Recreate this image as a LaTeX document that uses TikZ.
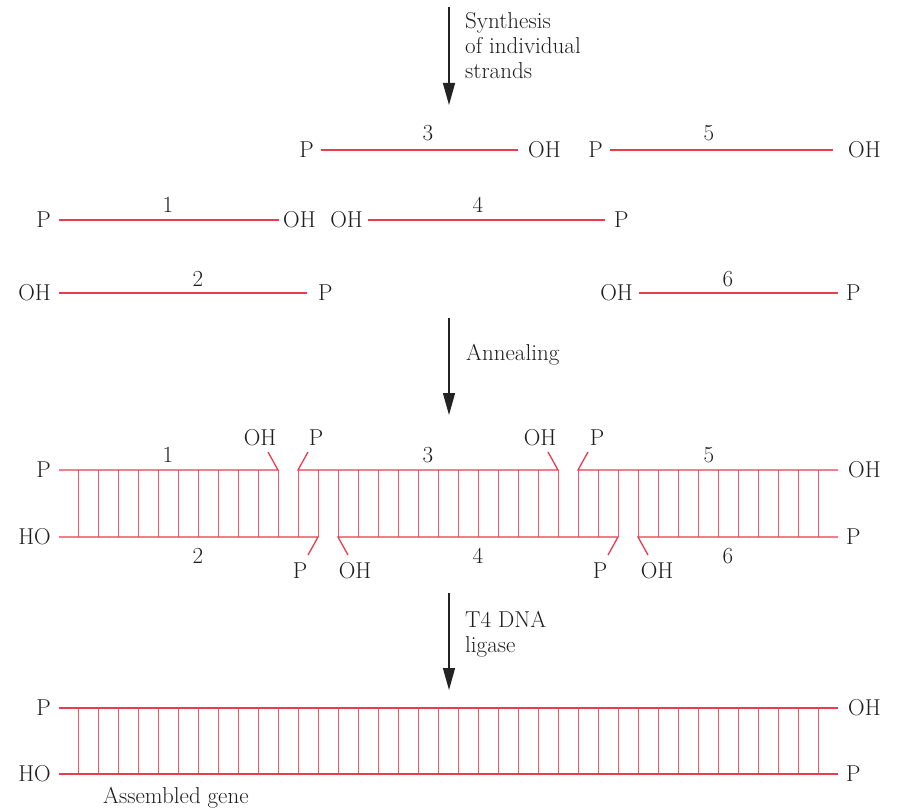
\documentclass[tikz,border=0pt]{standalone}
\usetikzlibrary{arrows.meta}
\definecolor{dnared}{RGB}{236,58,78}
\definecolor{rungred}{RGB}{238,90,105}
\definecolor{arrowgray}{RGB}{35,35,35}
\definecolor{txt}{RGB}{30,30,30}
\tikzset{
  strand/.style={draw=dnared, line width=1.3pt},
  thickstrand/.style={draw=dnared, line width=2.6pt},
  rung/.style={draw=rungred, line width=0.9pt},
  lbl/.style={font=\fontsize{23}{25}\selectfont, inner sep=0pt, text=txt},
  steparrow/.style={draw=arrowgray, line width=1.4pt, -{Triangle[width=12pt,length=22pt]}},
}
\begin{document}
\begin{tikzpicture}[x=1pt,y=-1pt]
\useasboundingbox (0,0) rectangle (899,810);

% ---------- step arrows ----------
\coordinate (a1s) at (449,7);
\coordinate (a1e) at (449,105);
\draw[steparrow] (a1s) -- (a1e);
\node[lbl, anchor=north west, align=left] (syn) at (465,12) {Synthesis\\of individual\\strands};

\coordinate (a2s) at (449,318);
\coordinate (a2e) at (449,415);
\draw[steparrow] (a2s) -- (a2e);
\node[lbl, anchor=west] (ann) at (466,355) {Annealing};

\coordinate (a3s) at (449,593);
\coordinate (a3e) at (449,690);
\draw[steparrow] (a3s) -- (a3e);
\node[lbl, anchor=north west, align=left] (lig) at (465,611) {T4 DNA\\ligase};

% ---------- single strands ----------
% strand 3
\node[lbl, anchor=east] (s3l) at (314,150) {P};
\node[lbl, anchor=west] (s3r) at (528,150) {OH};
\coordinate (s3a) at (321,150);
\coordinate (s3b) at (518,150);
\draw[strand] (s3a) -- (s3b);
\node[lbl] (n3) at (428,133) {3};
% strand 5
\node[lbl, anchor=east] (s5l) at (603,150) {P};
\node[lbl, anchor=west] (s5r) at (848,150) {OH};
\coordinate (s5a) at (610,150);
\coordinate (s5b) at (833,150);
\draw[thickstrand] (s5a) -- (s5b);
\node[lbl] (n5) at (709,133) {5};
% strand 1
\node[lbl, anchor=east] (s1l) at (51,220) {P};
\node[lbl, anchor=west] (s1r) at (283,220) {OH};
\coordinate (s1a) at (59,220);
\coordinate (s1b) at (279,220);
\draw[strand] (s1a) -- (s1b);
\node[lbl] (n1) at (168,205) {1};
% strand 4
\node[lbl, anchor=east] (s4l) at (363,220) {OH};
\node[lbl, anchor=west] (s4r) at (614,220) {P};
\coordinate (s4a) at (368,220);
\coordinate (s4b) at (605,220);
\draw[strand] (s4a) -- (s4b);
\node[lbl] (n4) at (478,205) {4};
% strand 2
\node[lbl, anchor=east] (s2l) at (51,293) {OH};
\node[lbl, anchor=west] (s2r) at (318,293) {P};
\coordinate (s2a) at (59,293);
\coordinate (s2b) at (307,293);
\draw[strand] (s2a) -- (s2b);
\node[lbl] (n2) at (198,279) {2};
% strand 6
\node[lbl, anchor=east] (s6l) at (633,293) {OH};
\node[lbl, anchor=west] (s6r) at (846,293) {P};
\coordinate (s6a) at (639,293);
\coordinate (s6b) at (838,293);
\draw[strand] (s6a) -- (s6b);
\node[lbl] (n6) at (728,279) {6};

% ---------- annealed duplex ----------
\foreach \i in {0,...,37} {
  \draw[rung] (78+20*\i,470) -- (78+20*\i,537);
}
\draw[strand] (59,470) -- (278,470) -- (268,452);
\draw[strand] (308,452) -- (298,470) -- (558,470) -- (548,452);
\draw[strand] (588,452) -- (578,470) -- (838,470);
\draw[strand] (59,537) -- (318,537) -- (308,555);
\draw[strand] (348,555) -- (338,537) -- (618,537) -- (608,555);
\draw[strand] (648,555) -- (638,537) -- (838,537);

\node[lbl, anchor=east] (d1l) at (51,470) {P};
\node[lbl, anchor=east] (d1L) at (51,537) {HO};
\node[lbl, anchor=west] (d1r) at (848,470) {OH};
\node[lbl, anchor=west] (d1R) at (846,537) {P};

\node[lbl] (k1) at (260,438) {OH};
\node[lbl] (k2) at (316,438) {P};
\node[lbl] (k3) at (540,438) {OH};
\node[lbl] (k4) at (597,438) {P};
\node[lbl] (k5) at (300,571) {P};
\node[lbl] (k6) at (355,571) {OH};
\node[lbl] (k7) at (600,571) {P};
\node[lbl] (k8) at (657,571) {OH};

\node[lbl] (m1) at (168,455) {1};
\node[lbl] (m3) at (428,455) {3};
\node[lbl] (m5) at (709,455) {5};
\node[lbl] (m2) at (198,556) {2};
\node[lbl] (m4) at (478,556) {4};
\node[lbl] (m6) at (728,556) {6};

% ---------- assembled gene ----------
\foreach \i in {0,...,37} {
  \draw[rung] (78+20*\i,708) -- (78+20*\i,774);
}
\draw[strand] (59,708) -- (838,708);
\draw[strand] (59,774) -- (838,774);
\node[lbl, anchor=east] (g1l) at (51,708) {P};
\node[lbl, anchor=east] (g1L) at (51,774) {HO};
\node[lbl, anchor=west] (g1r) at (848,708) {OH};
\node[lbl, anchor=west] (g1R) at (846,774) {P};
\node[lbl, anchor=base west] (asm) at (103,803) {Assembled gene};
\end{tikzpicture}
\end{document}
